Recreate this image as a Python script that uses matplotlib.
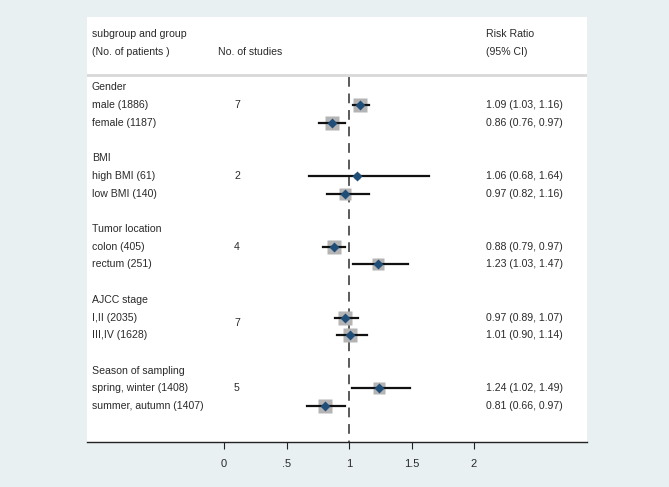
import numpy as np
import matplotlib.pyplot as plt

plt.rcParams['font.family'] = ['Liberation Sans', 'DejaVu Sans']

# data
subgroups = ["Gender", "BMI", "Tumor location", "AJCC stage", "Season of sampling"]
groups = [["male (1886)", "female (1187)"],
          ["high BMI (61)", "low BMI (140)"],
          ["colon (405)", "rectum (251)"],
          ["I,II (2035)", "III,IV (1628)"],
          ["spring, winter (1408)", "summer, autumn (1407)"]]
n_studies = [7, 2, 4, 7, 5]
rr = [[1.09, 0.86], [1.06, 0.97], [0.88, 1.23], [0.97, 1.01], [1.24, 0.81]]
ci_low = [[1.03, 0.76], [0.68, 0.82], [0.79, 1.03], [0.89, 0.90], [1.02, 0.66]]
ci_high = [[1.16, 0.97], [1.64, 1.16], [0.97, 1.47], [1.07, 1.14], [1.49, 0.97]]
weights = [[10.0, 10.0], [1.5, 7.5], [10.0, 7.5], [9.0, 9.0], [7.5, 10.0]]
xticks = [0, 0.5, 1, 1.5, 2]
xtick_labels = ["0", ".5", "1", "1.5", "2"]

bg = '#e8f0f2'
txt = '#2a2a2a'
fig = plt.figure(figsize=(6.69, 4.87), dpi=100, facecolor=bg)
ax = fig.add_axes([87 / 669, 45 / 487, 500 / 669, 425 / 487])
ax.set_facecolor('white')
ax.set_xlim(-1.096, 2.904)
ax.set_ylim(20.03, -3.98)

fs = 7.6
x_left = -1.056
x_studies = 0.104
x_right = 2.096

# header
ax.text(x_left, -3, "subgroup and group", fontsize=fs, va='center', color=txt)
ax.text(x_left, -2, "(No. of patients )", fontsize=fs, va='center', color=txt)
ax.text(-0.048, -2, "No. of studies", fontsize=fs, va='center', color=txt)
ax.text(x_right, -3, "Risk Ratio", fontsize=fs, va='center', color=txt)
ax.text(x_right, -2, "(95% CI)", fontsize=fs, va='center', color=txt)
ax.axhline(-0.7, color='#d8d8d8', lw=2)

# reference line at 1
ax.plot([1, 1], [-0.6, 20.03], color='#5a5a5a', lw=1.4, ls=(0, (5, 3.5)), zorder=1)

for i, name in enumerate(subgroups):
    k = i * 4
    ax.text(x_left, k, name, fontsize=fs, va='center', color=txt)
    yk = k + 1 if i != 3 else k + 1.3
    ax.text(x_studies, yk, str(n_studies[i]), fontsize=fs, va='center',
            ha='center', color=txt)
    for j in range(2):
        y = k + 1 + j
        ax.text(x_left, y, groups[i][j], fontsize=fs, va='center', color=txt)
        ax.text(x_right, y, "%.2f (%.2f, %.2f)" % (rr[i][j], ci_low[i][j], ci_high[i][j]),
                fontsize=fs, va='center', color=txt)
        ax.plot(rr[i][j], y, marker='s', ms=3.2 * np.sqrt(weights[i][j]),
                color='#b4b4b4', mec='none', zorder=2)
        ax.plot([ci_low[i][j], ci_high[i][j]], [y, y], color='#111111', lw=1.6, zorder=3)
        ax.plot(rr[i][j], y, marker='D', ms=5.2, color='#1f4e79', mec='none', zorder=4)

for s in ['top', 'left', 'right']:
    ax.spines[s].set_visible(False)
ax.spines['bottom'].set_color('#222222')
ax.spines['bottom'].set_linewidth(1.0)
ax.set_yticks([])
ax.set_xticks(xticks)
ax.set_xticklabels(xtick_labels, fontsize=8, color=txt)
ax.tick_params(axis='x', length=5, width=0.8, color='#222222', pad=7)

fig.savefig('out.png', dpi=100, facecolor=bg)
